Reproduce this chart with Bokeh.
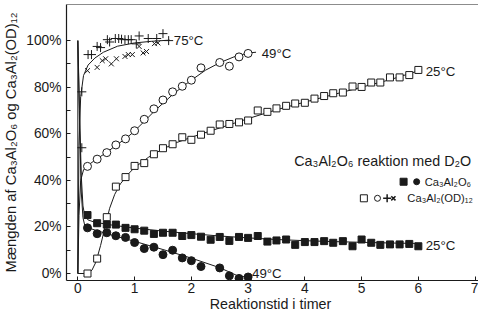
from bokeh.plotting import figure
from bokeh.models import Range1d, FixedTicker, PrintfTickFormatter, Label, Span
from bokeh.embed import file_html
from bokeh.resources import INLINE

# ---------------- data ----------------
# Ca3Al2O6, 25 C (filled squares)
r25_t = [0.17, 0.34, 0.51, 0.67, 0.84, 1.0, 1.17, 1.34, 1.5, 1.67, 1.84, 2.0,
         2.17, 2.34, 2.5, 2.67, 2.84, 3.0, 3.17, 3.34, 3.5, 3.67, 3.83, 4.0,
         4.17, 4.34, 4.5, 4.67, 4.84, 5.0, 5.17, 5.33, 5.5, 5.67, 5.84, 6.0]
r25_v = [25.1, 21.6, 21.0, 21.0, 19.6, 19.0, 18.4, 17.0, 17.5, 17.5, 16.1, 16.5,
         15.8, 14.5, 15.7, 14.0, 15.7, 15.3, 16.1, 13.7, 14.2, 14.6, 12.3, 13.5,
         13.5, 13.9, 13.2, 13.9, 11.7, 14.6, 13.2, 12.3, 12.5, 12.5, 12.7, 11.7]
# Ca3Al2O6, 49 C (filled circles)
r49_t = [0.17, 0.34, 0.51, 0.67, 0.84, 1.0, 1.17, 1.34, 1.5, 1.67, 1.84, 2.0,
         2.17, 2.5, 2.67, 2.84, 3.0]
r49_v = [19.6, 17.1, 17.5, 16.2, 15.5, 13.3, 10.7, 11.3, 8.1, 10.0, 6.7, 5.5,
         3.0, 2.4, -1.0, -2.1, -1.5]
# Ca3Al2(OD)12, 25 C (open squares)
p25_t = r25_t
p25_v = [0.0, 6.4, 24.2, 37.3, 41.4, 46.2, 47.4, 51.2, 53.8, 55.5, 58.5, 57.4,
         59.6, 61.3, 64.0, 64.2, 64.9, 65.7, 70.0, 69.4, 70.9, 72.0, 73.0, 73.3,
         75.1, 76.2, 77.4, 77.7, 80.3, 80.1, 82.0, 82.0, 84.2, 84.2, 85.2, 87.4]
# Ca3Al2(OD)12, 49 C (open circles)
p49_t = r49_t
p49_v = [46.0, 49.1, 51.9, 55.2, 57.8, 61.3, 66.2, 70.7, 74.5, 78.0, 80.4, 83.0,
         88.3, 90.6, 89.0, 93.0, 94.5]
# Ca3Al2(OD)12, 75 C (+ and x)
p75a_t = [0.07, 0.07, 0.18, 0.24, 0.34, 0.40, 0.52, 0.56, 0.66, 0.72, 0.77, 0.83,
          0.89, 0.94, 1.03, 1.08, 1.24, 1.39, 1.50, 1.60]
p75a_v = [54.0, 78.0, 94.0, 94.0, 97.5, 97.0, 100.4, 99.4, 100.9, 100.9, 100.6, 100.4,
          100.4, 100.4, 98.6, 102.0, 100.9, 100.9, 103.0, 100.0]
p75b_t = [0.17, 0.34, 0.43, 0.49, 0.59, 0.68, 0.83, 0.89, 0.96, 1.08, 1.15, 1.21,
          1.35, 1.41]
p75b_v = [87.1, 88.5, 91.4, 92.2, 90.0, 92.2, 93.2, 94.0, 94.0, 97.5, 94.7, 95.3,
          98.7, 99.0]

# fitted curves drawn in the picture
fit_r25_t = [0, 0.03, 0.06, 0.09, 0.12, 0.18, 0.3, 0.6, 1.0, 1.5, 2.0, 2.5, 3.0,
             3.5, 4.0, 4.5, 5.0, 5.5, 6.0]
fit_r25_v = [100, 70, 42, 29, 25, 23, 22, 20.8, 19.5, 18.2, 17.1, 16.1, 15.3,
             14.6, 14.1, 13.7, 13.4, 13.1, 12.9]
fit_r49_t = [0, 0.03, 0.06, 0.09, 0.12, 0.18, 0.35, 0.6, 1.0, 1.5, 2.0, 2.5, 2.8, 3.0]
fit_r49_v = [100, 65, 35, 24, 20.8, 19.6, 18.3, 16.5, 13.8, 10.3, 6.6, 2.5, -0.8, -1.7]
fit_p25_t = [0, 0, 0.17, 0.25, 0.32, 0.4, 0.48, 0.56, 0.65, 0.75, 0.88, 1.0, 1.25,
             1.5, 1.75, 2.0, 2.5, 3.0, 3.5, 4.0, 4.5, 5.0, 5.5, 6.0]
fit_p25_v = [100, 0, 0, 1.5, 5, 12, 20, 28, 34, 38.5, 42.5, 45.5, 50, 53.5, 56.3,
             58.5, 62.5, 66.5, 70.3, 73.6, 76.8, 80, 83.2, 87]
fit_p49_t = [0, 0.02, 0.05, 0.1, 0.18, 0.34, 0.52, 0.68, 0.85, 1.0, 1.17, 1.34,
             1.51, 1.68, 1.85, 2.0, 2.25, 2.5, 2.75, 3.0, 3.14]
fit_p49_v = [0, 25, 40, 44.5, 46.5, 49.3, 52.2, 55.2, 58, 61.2, 65.3, 69.5, 73.3,
             77, 80.3, 83, 87.3, 90.5, 93, 94.7, 95]
fit_p75_t = [0, 0.02, 0.05, 0.1, 0.18, 0.3, 0.45, 0.7, 1.0, 1.3, 1.62]
fit_p75_v = [0, 55, 76, 85, 89.5, 92.5, 95, 97.6, 99, 99.7, 100.2]

x_ticks = [0, 1, 2, 3, 4, 5, 6, 7]
y_ticks = [0, 20, 40, 60, 80, 100]
y_minor = [10, 30, 50, 70, 90]

FONT = "Liberation Sans"
INK = "#1a1a1a"
Y_BOTTOM, Y_TOP = -3.0, 115.5

p = figure(width=478, height=314, output_backend="svg", toolbar_location=None,
           x_range=Range1d(-0.2, 7.06), y_range=Range1d(Y_BOTTOM, Y_TOP),
           min_border_left=62, min_border_right=0, min_border_top=4,
           min_border_bottom=10)
p.grid.visible = False
p.outline_line_color = None
p.background_fill_color = "white"
p.border_fill_color = "white"

p.add_layout(Span(location=Y_TOP, dimension="width", line_color=INK, line_width=1.2))

ax = p.xaxis[0]
ax.ticker = FixedTicker(ticks=x_ticks)
ax.major_tick_in = 4
ax.major_tick_out = 0
ax.axis_label = "Reaktionstid  i timer"
ax.major_label_standoff = 2
ax.axis_label_standoff = 0

ay = p.yaxis[0]
ay.ticker = FixedTicker(ticks=y_ticks, minor_ticks=y_minor)
ay.formatter = PrintfTickFormatter(format="%d%%")
ay.major_tick_in = 4
ay.major_tick_out = 0
ay.minor_tick_in = 4
ay.minor_tick_out = 0
ay.axis_label = "Mængden af Ca₃Al₂O₆ og Ca₃Al₂(OD)₁₂"
ay.major_label_standoff = 5
ay.axis_label_standoff = 4

for a in (ax, ay):
    a.axis_line_color = INK
    a.axis_line_width = 1.2
    a.major_tick_line_color = INK
    a.minor_tick_line_color = INK if a is ay else None
    a.major_label_text_font = FONT
    a.major_label_text_font_size = "13.75px"
    a.major_label_text_color = INK
    a.axis_label_text_font = FONT
    a.axis_label_text_font_size = "14.8px" if a is ay else "14.3px"
    a.axis_label_text_font_style = "normal"
    a.axis_label_text_color = INK

# curves
for tt, vv in [(fit_r25_t, fit_r25_v), (fit_r49_t, fit_r49_v), (fit_p25_t, fit_p25_v),
               (fit_p49_t, fit_p49_v), (fit_p75_t, fit_p75_v)]:
    p.line(tt, vv, line_color=INK, line_width=1)

# markers
p.scatter(r25_t, r25_v, marker="square", size=7, fill_color=INK, line_color=INK)
p.scatter(r49_t, r49_v, marker="circle", size=8, fill_color=INK, line_color=INK)
p.scatter(p25_t, p25_v, marker="square", size=7, fill_color="white", line_color=INK, line_width=1)
p.scatter(p49_t, p49_v, marker="circle", size=8, fill_color="white", line_color=INK, line_width=1)
p.scatter(p75a_t, p75a_v, marker="cross", size=9, line_color=INK, line_width=1)
p.scatter(p75b_t, p75b_v, marker="x", size=7, line_color=INK, line_width=1)

# curve labels
def lab(x, y, text, size="13.25px", align="left"):
    p.add_layout(Label(x=x, y=y, text=text, text_font=FONT, text_font_size=size,
                       text_color=INK, text_baseline="middle", text_align=align))

lab(1.69, 100.2, "75°C")
lab(3.24, 94.3, "49°C")
lab(6.13, 86.8, "25°C")
lab(6.13, 12.0, "25°C")
lab(3.07, 0.2, "49°C")

# title and legend block
lab(6.93, 48.5, "Ca₃Al₂O₆ reaktion med D₂O", size="14.3px", align="right")
lab(6.93, 39.4, "Ca₃Al₂O₆", size="11.2px", align="right")
lab(6.96, 32.3, "Ca₃Al₂(OD)₁₂", size="11.2px", align="right")
p.scatter([5.74], [39.4], marker="square", size=7, fill_color=INK, line_color=INK)
p.scatter([5.97], [39.4], marker="circle", size=6, fill_color=INK, line_color=INK)
p.scatter([5.04], [32.3], marker="square", size=7, fill_color="white", line_color=INK)
p.scatter([5.28], [32.3], marker="circle", size=6, fill_color="white", line_color=INK)
p.scatter([5.45], [32.3], marker="cross", size=8, line_color=INK, line_width=1.5)
p.scatter([5.56], [32.3], marker="x", size=6, line_color=INK, line_width=1.5)

open("out.html", "w").write(file_html(p, INLINE))
